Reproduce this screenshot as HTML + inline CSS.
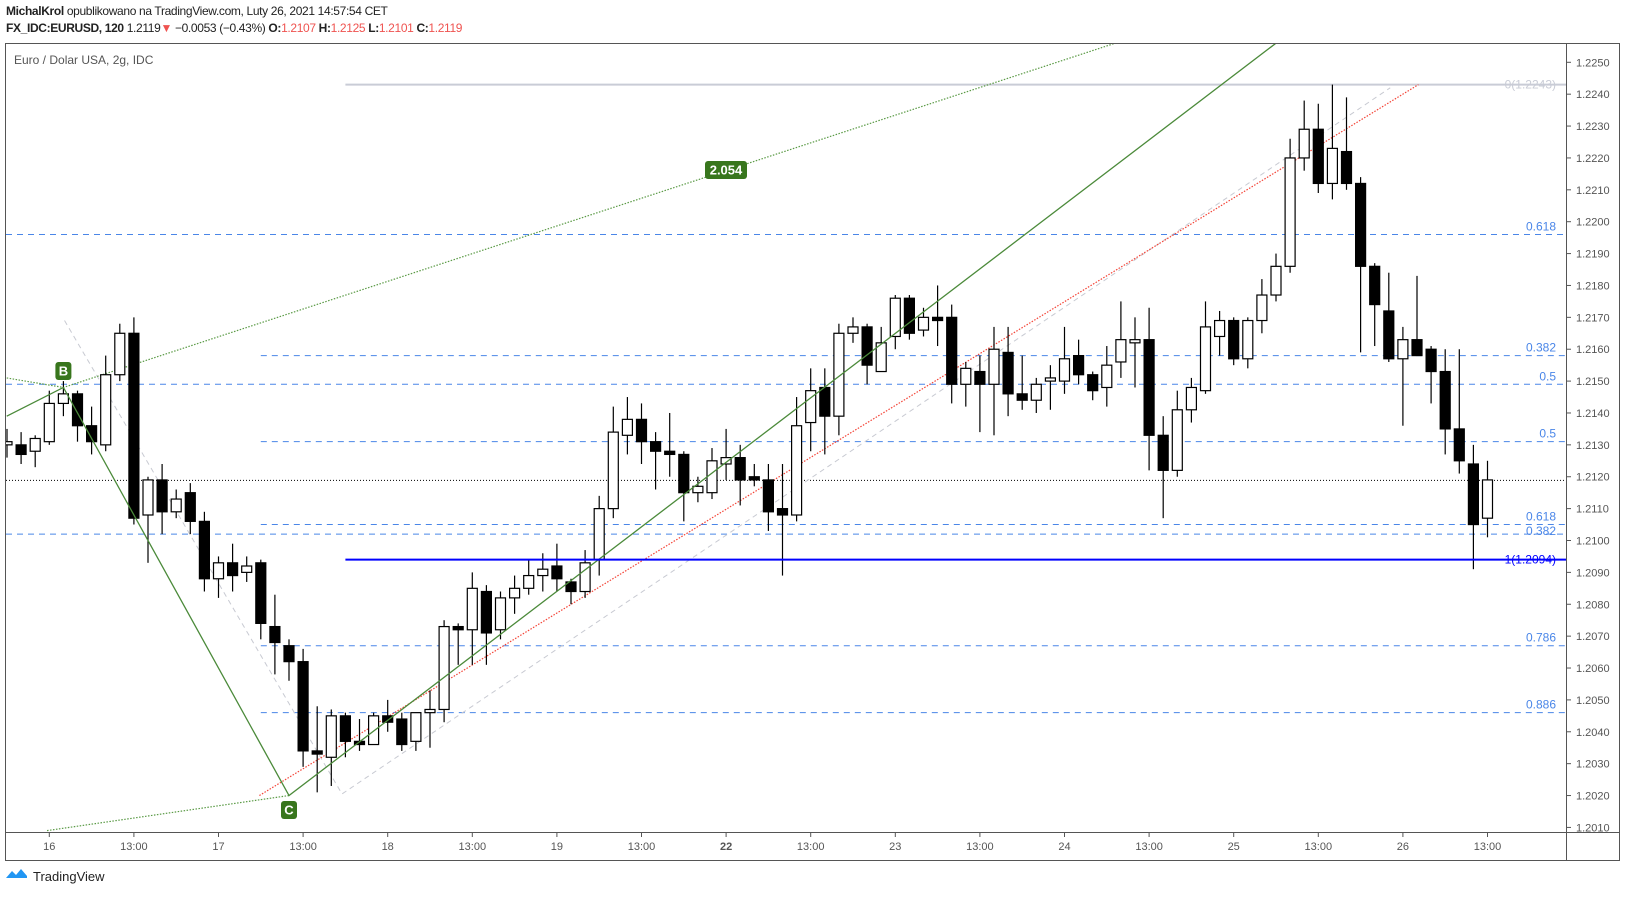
<!DOCTYPE html>
<html><head><meta charset="utf-8">
<style>
html,body{margin:0;padding:0;background:#fff;}
body{width:1627px;height:897px;overflow:hidden;position:relative;font-family:"Liberation Sans",sans-serif;}
.hdr{position:absolute;left:6px;font-size:12px;color:#222;letter-spacing:-0.35px;white-space:nowrap;}
.red{color:#ef5350;}
svg text{font-family:"Liberation Sans",sans-serif;}
</style></head>
<body>
<div class="hdr" style="top:4px;"><b>MichalKrol</b> opublikowano na TradingView.com, Luty 26, 2021 14:57:54 CET</div>
<div class="hdr" style="top:21px;"><b>FX_IDC:EURUSD, 120</b> 1.2119<span class="red">▼</span> −0.0053 (−0.43%) <b>O:</b><span class="red">1.2107</span> <b>H:</b><span class="red">1.2125</span> <b>L:</b><span class="red">1.2101</span> <b>C:</b><span class="red">1.2119</span></div>
<svg id="chart" width="1627" height="897" style="position:absolute;left:0;top:0;">
<defs><clipPath id="plotclip"><rect x="6" y="44" width="1560" height="788"/></clipPath></defs>
<rect x="5.5" y="43.5" width="1614" height="817" fill="none" stroke="#555"/>
<line x1="1566.5" y1="43" x2="1566.5" y2="861" stroke="#555"/>
<line x1="5" y1="832.5" x2="1620" y2="832.5" stroke="#555"/>
<text x="14" y="64" font-size="12" fill="#555">Euro / Dolar USA, 2g, IDC</text>
<g id="plot" clip-path="url(#plotclip)"></g>
<g id="axes"></g>
<g transform="translate(6,868)">
<path d="M0 10 L6 3 L10 7 L15 1 L21 8 L21 10 Z" fill="#2196f3"/>
<text x="27" y="13" font-size="13" fill="#222">TradingView</text>
</g>
</svg>
<script>
const opens=[1.2130,1.2130,1.2128,1.2131,1.2143,1.2146,1.2136,1.2130,1.2152,1.2165,1.2108,1.2119,1.2109,1.2115,1.2106,1.2088,1.2093,1.2090,1.2093,1.2073,1.2067,1.2062,1.2034,1.2032,1.2045,1.2037,1.2036,1.2045,1.2044,1.2037,1.2046,1.2047,1.2073,1.2072,1.2084,1.2072,1.2082,1.2085,1.2089,1.2092,1.2087,1.2084,1.2094,1.2110,1.2133,1.2138,1.2131,1.2128,1.2127,1.2115,1.2115,1.2124,1.2126,1.2120,1.2119,1.2110,1.2108,1.2137,1.2148,1.2139,1.2165,1.2167,1.2153,1.2164,1.2176,1.2166,1.2170,1.2170,1.2149,1.2153,1.2149,1.2159,1.2146,1.2144,1.2150,1.2150,1.2158,1.2152,1.2148,1.2156,1.2162,1.2163,1.2133,1.2122,1.2141,1.2147,1.2164,1.2169,1.2157,1.2169,1.2177,1.2186,1.2220,1.2229,1.2212,1.2222,1.2212,1.2186,1.2172,1.2157,1.2163,1.2160,1.2153,1.2135,1.2124,1.2107];
const highs=[1.2135,1.2134,1.2133,1.2147,1.2150,1.2147,1.2142,1.2158,1.2168,1.2170,1.2120,1.2124,1.2116,1.2118,1.2109,1.2095,1.2099,1.2095,1.2094,1.2083,1.2069,1.2066,1.2048,1.2047,1.2046,1.2044,1.2046,1.2050,1.2046,1.2046,1.2053,1.2075,1.2074,1.2090,1.2086,1.2084,1.2089,1.2094,1.2096,1.2099,1.2088,1.2097,1.2114,1.2142,1.2145,1.2143,1.2134,1.2140,1.2128,1.2120,1.2129,1.2135,1.2130,1.2124,1.2124,1.2124,1.2145,1.2154,1.2154,1.2168,1.2170,1.2168,1.2167,1.2177,1.2177,1.2173,1.2180,1.2174,1.2156,1.2158,1.2167,1.2167,1.2158,1.2151,1.2155,1.2167,1.2163,1.2153,1.2161,1.2175,1.2170,1.2173,1.2139,1.2147,1.2151,1.2175,1.2172,1.2170,1.2170,1.2182,1.2190,1.2226,1.2238,1.2237,1.2243,1.2239,1.2214,1.2187,1.2184,1.2167,1.2183,1.2161,1.2160,1.2160,1.2130,1.2125];
const lows=[1.2126,1.2124,1.2123,1.2130,1.2139,1.2131,1.2127,1.2128,1.2150,1.2105,1.2093,1.2102,1.2107,1.2102,1.2084,1.2082,1.2084,1.2087,1.2069,1.2058,1.2056,1.2029,1.2021,1.2023,1.2032,1.2034,1.2036,1.2040,1.2034,1.2034,1.2035,1.2043,1.2061,1.2061,1.2061,1.2069,1.2077,1.2083,1.2084,1.2084,1.2080,1.2082,1.2089,1.2107,1.2127,1.2124,1.2116,1.2120,1.2106,1.2112,1.2113,1.2119,1.2111,1.2117,1.2103,1.2089,1.2106,1.2128,1.2127,1.2133,1.2162,1.2149,1.2153,1.2160,1.2163,1.2164,1.2161,1.2143,1.2142,1.2134,1.2133,1.2139,1.2141,1.2140,1.2141,1.2146,1.2149,1.2144,1.2142,1.2151,1.2148,1.2122,1.2107,1.2120,1.2137,1.2146,1.2158,1.2155,1.2154,1.2165,1.2175,1.2184,1.2216,1.2209,1.2207,1.2210,1.2159,1.2161,1.2156,1.2136,1.2158,1.2143,1.2127,1.2121,1.2091,1.2101];
const closes=[1.2131,1.2127,1.2132,1.2143,1.2146,1.2136,1.2131,1.2152,1.2165,1.2107,1.2119,1.2109,1.2113,1.2106,1.2088,1.2093,1.2089,1.2092,1.2074,1.2068,1.2062,1.2034,1.2033,1.2045,1.2037,1.2036,1.2045,1.2043,1.2036,1.2046,1.2047,1.2073,1.2072,1.2085,1.2071,1.2082,1.2085,1.2089,1.2091,1.2088,1.2084,1.2093,1.2110,1.2134,1.2138,1.2131,1.2128,1.2127,1.2115,1.2117,1.2125,1.2126,1.2119,1.2119,1.2109,1.2108,1.2136,1.2147,1.2139,1.2165,1.2167,1.2155,1.2162,1.2176,1.2165,1.2170,1.2169,1.2149,1.2154,1.2149,1.2160,1.2146,1.2144,1.2149,1.2151,1.2157,1.2152,1.2147,1.2155,1.2163,1.2163,1.2133,1.2122,1.2141,1.2148,1.2167,1.2169,1.2157,1.2169,1.2177,1.2186,1.2220,1.2229,1.2212,1.2223,1.2212,1.2186,1.2174,1.2157,1.2163,1.2158,1.2153,1.2135,1.2125,1.2105,1.2119];
const priceTicks=[1.2010,1.2020,1.2030,1.2040,1.2050,1.2060,1.2070,1.2080,1.2090,1.2100,1.2110,1.2120,1.2130,1.2140,1.2150,1.2160,1.2170,1.2180,1.2190,1.2200,1.2210,1.2220,1.2230,1.2240,1.2250];
const timeTickIdx=[3,9,15,21,27,33,39,45,51,57,63,69,75,81,87,93,99,105];
const timeTickLabels=["16","13:00","17","13:00","18","13:00","19","13:00","22","13:00","23","13:00","24","13:00","25","13:00","26","13:00"];
const fibLevels=[1.2196,1.2158,1.2149,1.2131,1.2105,1.2102,1.2067,1.2046];
const fibLabels=["0.618","0.382","0.5","0.5","0.618","0.382","0.786","0.886"];
const fibStartIdx=[-1,18,-1,18,18,-1,18,18];
const greenSolid=[[-0.02,1.2139],[4,1.2148],[20,1.2020],[90,1.2256]];
const greenDotted=[[-0.02,1.2151],[4,1.2148],[78.6,1.2256]];
const greenDottedLow=[[2.84,1.2009],[20,1.2020]];
const redDotted=[[17.9,1.2020],[100.1,1.2243]];
const grayDashed=[[4.08,1.2169],[23.76,1.20205],[98.1,1.2242]];
const topLevel=1.2243, baseLevel=1.2094, lastPrice=1.2119;

const NS="http://www.w3.org/2000/svg";
function xs(i){return 7+14.1*i;}
function ys(p){return 62.3+(1.2250-p)*31880;}
function mk(tag,attrs,parent){const e=document.createElementNS(NS,tag);for(const k in attrs)e.setAttribute(k,attrs[k]);parent.appendChild(e);return e;}
const plot=document.getElementById('plot'), axes=document.getElementById('axes'), svg=document.getElementById('chart');
const PR=1566;

// fib lines
fibLevels.forEach((p,k)=>{
  const l=mk('line',{x1:fibStartIdx[k]<0?6:xs(fibStartIdx[k]),x2:PR,y1:ys(p),y2:ys(p),stroke:'#4a86e8','stroke-width':1,'stroke-dasharray':'6 5'},plot);
  
  
});
// top gray level
let tl=mk('line',{x1:xs(24),x2:PR,y1:ys(topLevel),y2:ys(topLevel),stroke:'#c9ccd6','stroke-width':2},plot);


// last price dotted
let lp=mk('line',{x1:6,x2:PR,y1:ys(lastPrice)+0.5,y2:ys(lastPrice)+0.5,stroke:'#000','stroke-width':1,'stroke-dasharray':'1 2'},plot);


// drawings
function poly(pts,attrs,name){const e=mk('polyline',Object.assign({points:pts.map(q=>xs(q[0])+','+ys(q[1])).join(' '),fill:'none'},attrs),plot);return e;}
poly(grayDashed,{stroke:'#c8cad2','stroke-width':1,'stroke-dasharray':'5 4'},'channel-line');
poly(greenDotted,{stroke:'#5a9a45','stroke-width':1.2,'stroke-dasharray':'1.5 1.5'},'fib-extension-dotted');
poly(greenDottedLow,{stroke:'#5a9a45','stroke-width':1.2,'stroke-dasharray':'1.5 1.5'},'bc-dotted-line');
poly(redDotted,{stroke:'#f44336','stroke-width':1.2,'stroke-dasharray':'1.5 1.5'},'red-trendline');
// candles
for(let i=0;i<opens.length;i++){
  const x=xs(i), up=closes[i]>=opens[i];
  const w=mk('line',{x1:x,x2:x,y1:ys(highs[i]),y2:ys(lows[i]),stroke:'#000','stroke-width':1.2},plot);
  
  
  const top=ys(Math.max(opens[i],closes[i])), bot=ys(Math.min(opens[i],closes[i]));
  const b=mk('rect',{x:x-5,y:top,width:10,height:Math.max(bot-top,1.5),fill:up?'#fff':'#000',stroke:'#000','stroke-width':1.2},plot);
  
  
}
poly(greenSolid,{stroke:'#4b8a3a','stroke-width':1.3},'xabc-pattern-line');
let bl=mk('line',{x1:xs(24),x2:PR,y1:ys(baseLevel),y2:ys(baseLevel),stroke:'#0000ff','stroke-width':2},plot);


// fib labels
function lbl(txt,y,col,name){const t=mk('text',{x:1556,y:y,'text-anchor':'end','font-size':12,fill:col},plot);t.textContent=txt;}
fibLevels.forEach((p,k)=>{lbl(fibLabels[k],ys(p)-(k===5?-1:4),'#4a86e8','fib-label');});
lbl('0('+topLevel.toFixed(4)+')',ys(topLevel)+4,'#c9ccd6','fib-label-0');
lbl('1('+baseLevel.toFixed(4)+')',ys(baseLevel)+4,'#0000ff','fib-label-1');
// badges
function badge(cx,cy,w,txt,name){const g=mk('g',{},plot);
  mk('rect',{x:cx-w/2,y:cy-9,width:w,height:18,rx:3,fill:'#38761d'},g);
  const t=mk('text',{x:cx,y:cy+4.5,'text-anchor':'middle','font-size':13,fill:'#fff','font-weight':'bold'},g);t.textContent=txt;}
badge(726,170,42,'2.054','ratio-label');
badge(xs(4),371,16,'B','point-b-label');
badge(xs(20),810,16,'C','point-c-label');
// price axis
priceTicks.forEach(p=>{const y=ys(p);
  const tk=mk('line',{x1:1566,x2:1571,y1:y,y2:y,stroke:'#555'},axes);
  
  
  const t=mk('text',{x:1576,y:y+4,'font-size':11,fill:'#555'},axes);t.textContent=p.toFixed(4);
  
  
});
// time axis
timeTickIdx.forEach((i,k)=>{const x=xs(i);
  const tk=mk('line',{x1:x,x2:x,y1:832,y2:837,stroke:'#555'},axes);
  
  
  const t=mk('text',{x:x,y:850,'text-anchor':'middle','font-size':11,fill:'#555','font-weight':timeTickLabels[k]==='22'?'bold':'normal'},axes);t.textContent=timeTickLabels[k];
  
  
});
</script>
</body></html>
